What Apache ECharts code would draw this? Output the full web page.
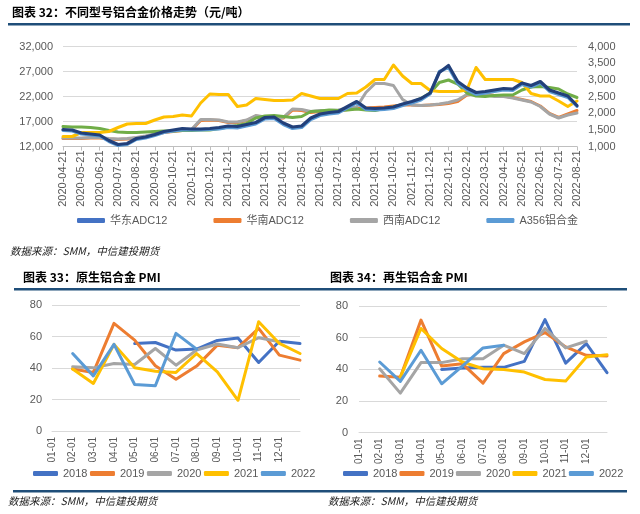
<!DOCTYPE html>
<html><head><meta charset="utf-8">
<script src="https://cdn.jsdelivr.net/npm/echarts@6/dist/echarts.min.js"></script>
<style>html,body{margin:0;padding:0;background:#fff}#c{width:640px;height:514px}</style>
</head><body><div id="c"></div>
<script>
// ---- Chart 32: price trend (semi-monthly readings) ----
const priceDates = ["2020-04-21","2020-05-06","2020-05-21","2020-06-06","2020-06-21","2020-07-06","2020-07-21","2020-08-06","2020-08-21","2020-09-06","2020-09-21","2020-10-06","2020-10-21","2020-11-06","2020-11-21","2020-12-06","2020-12-21","2021-01-06","2021-01-21","2021-02-06","2021-02-21","2021-03-06","2021-03-21","2021-04-06","2021-04-21","2021-05-06","2021-05-21","2021-06-06","2021-06-21","2021-07-06","2021-07-21","2021-08-06","2021-08-21","2021-09-06","2021-09-21","2021-10-06","2021-10-21","2021-11-06","2021-11-21","2021-12-06","2021-12-21","2022-01-06","2022-01-21","2022-02-06","2022-02-21","2022-03-06","2022-03-21","2022-04-06","2022-04-21","2022-05-06","2022-05-21","2022-06-06","2022-06-21","2022-07-06","2022-07-21","2022-08-06","2022-08-21"];
const huadong = [15400,15300,14700,14500,14300,13200,12400,12600,13600,13900,14400,15000,15300,15600,15500,15500,15600,15800,16100,16000,16400,16800,17800,17900,16700,15900,16100,17700,18500,18800,19000,20000,21000,19700,19600,19700,19900,20500,21000,21600,22700,26800,28200,25000,23700,22800,23000,23300,23600,23500,24700,24200,25000,23300,22700,22100,20200];
const huanan = [13600,13600,13600,13700,13700,13500,13400,13500,13700,14000,14400,14800,15000,15200,15300,17200,17300,17200,16800,16800,17200,18100,17800,17600,17700,19300,19200,18800,19000,19000,19100,19400,19600,19700,19800,19900,20100,20300,20300,20200,20300,20400,20600,21000,22300,22600,22500,22200,22100,21800,21400,21000,20100,18600,17800,18500,19200];
const xinan = [13700,13700,13700,13800,13800,13600,13500,13600,13800,14100,14500,14900,15100,15300,15400,17400,17400,17300,16900,16900,17300,18200,17900,17700,17800,19500,19400,19000,19200,19200,19300,19700,19900,22800,24600,24600,24200,21400,20300,20200,20300,20500,20800,21300,22400,22600,22400,22000,22000,21700,21300,20900,20000,18500,17700,18300,18700];
const a356 = [15200,15100,14500,14300,14100,13000,12200,12400,13400,13700,14200,14800,15100,15300,15300,15300,15400,15500,15800,15700,16100,16500,17500,17600,16400,15600,15800,17400,18200,18500,18700,19700,20700,19400,19300,19400,19600,20200,20700,21300,22500,27000,27800,24600,23300,22400,22700,23000,23300,23200,24400,23900,24700,23000,22400,21800,20000];
const series5 = [14000,14000,14800,14800,14800,15000,15800,16500,16600,16600,17300,17900,18000,18300,18100,20700,22500,22400,22400,20000,20300,21600,21400,21200,21200,21300,22600,22100,21600,21600,21600,22600,22700,23900,25400,25400,28300,26100,24600,24600,23200,23000,23000,23000,23300,27800,25400,25400,25400,25400,24800,22600,22100,22100,21100,20000,21100];
const series6 = [16000,15900,15900,15800,15600,15200,14900,14800,14800,14900,15000,15100,15100,15200,15200,15300,15300,15600,15900,16200,16600,17700,18100,18200,18000,17800,18000,19000,19100,19300,19200,19300,19500,19300,19200,19600,19900,20400,20800,21600,22700,24800,25300,24500,22700,22100,22000,22200,22300,22300,23300,23900,24000,23800,23500,22500,21800];
const leftTicks = {min:12000, max:32000, step:5000};
const rightTicks = {min:1000, max:4000, step:500};

// ---- Chart 33 / 34: PMI ----
const pmiCats = ["01-01","02-01","03-01","04-01","05-01","06-01","07-01","08-01","09-01","10-01","11-01","12-01",""];
const years = ["2018","2019","2020","2021","2022"];
const yuan2018 = [null,null,null,55.5,56.2,51.4,52,57.5,59,43.5,57,55.5];
const yuan2019 = [39.3,37.2,68.3,57.7,41.4,32.8,41.2,54.5,52.9,65.2,48.2,45];
const yuan2020 = [40.8,40.1,42.9,42.2,52.4,41.8,51.4,55.2,52.9,59.2,56.7,null];
const yuan2021 = [39.3,30.2,55,40.1,38,37.2,49.2,37.6,19.5,69.4,55.6,49.2];
const yuan2022 = [49.2,35,55,29.5,28.7,62,52];
const zai2018 = [null,null,null,39.9,40.8,41.2,41.2,45,71.4,43.9,56.2,37.8];
const zai2019 = [35.7,35,71.1,42,43.5,31.2,49.9,57.3,63.2,54.1,48.8,48.4];
const zai2020 = [40.3,24.9,44.2,44.2,46.7,46.7,55.2,49.9,65.8,53.5,57.7,null];
const zai2021 = [null,35,65.8,53.1,44.6,40.3,39.9,38.2,33.5,32.5,47.8,49.2];
const zai2022 = [44.6,32.3,52,30.8,42,53.5,55.2];
const yearColors = ["#4472C4","#ED7D31","#A5A5A5","#FFC000","#5B9BD5"];

const FONT = "'Liberation Sans','Noto Sans CJK SC',sans-serif";
const CJK = "'Noto Sans CJK SC',sans-serif";
const grayTxt = '#595959';

function lineS(name, data, color, xi, yi, w){
  return {name, type:'line', data, xAxisIndex:xi, yAxisIndex:yi, symbol:'none', smooth:false,
    lineStyle:{color, width:w||3, cap:'round', join:'round'}, itemStyle:{color}, emphasis:{disabled:true}};
}
const shift = arr => [null].concat(arr); // reference draws PMI points one slot right of labels

const pmiA = [yuan2018,yuan2019,yuan2020,yuan2021,yuan2022];
const pmiB = [zai2018,zai2019,zai2020,zai2021,zai2022];

const series = [
  lineS('华南ADC12', huanan, '#ED7D31', 0, 0, 3),
  lineS('西南ADC12', xinan, '#A5A5A5', 0, 0, 3),
  lineS('系列6', series6, '#70AD47', 0, 0, 3),
  lineS('系列5', series5, '#FFC000', 0, 0, 3),
  lineS('A356铝合金', a356, '#5B9BD5', 0, 0, 3),
  lineS('华东ADC12', huadong, '#22407A', 0, 0, 3.2)
];
years.forEach((y,i)=>series.push(lineS(y, shift(pmiA[i]), yearColors[i], 1, 2, 3)));
years.forEach((y,i)=>series.push(lineS(y, shift(pmiB[i]), yearColors[i], 2, 3, 3)));

const splitL = {show:true, lineStyle:{color:'#D9D9D9', width:1}};
const yLab = {fontSize:11, color:grayTxt, fontFamily:FONT};

const option = {
  animation:false,
  textStyle:{fontFamily:FONT},
  grid:[
    {left:63, top:46.5, width:514, height:100},
    {left:52, top:305, width:248, height:126},
    {left:359, top:306, width:248, height:126.5}
  ],
  xAxis:[
    {gridIndex:0, type:'category', data:priceDates, boundaryGap:false,
     axisLine:{lineStyle:{color:'#BFBFBF'}},
     axisTick:{show:true, length:4, interval:(i)=>i%2===0, lineStyle:{color:'#BFBFBF'}},
     axisLabel:{rotate:90, interval:(i)=>i%2===0, fontSize:11, color:grayTxt, margin:4}},
    {gridIndex:1, type:'category', data:pmiCats, boundaryGap:false,
     axisLine:{lineStyle:{color:'#D9D9D9'}}, axisTick:{show:false},
     axisLabel:{rotate:90, interval:0, fontSize:10, color:grayTxt, margin:6}},
    {gridIndex:2, type:'category', data:pmiCats, boundaryGap:false,
     axisLine:{lineStyle:{color:'#D9D9D9'}}, axisTick:{show:false},
     axisLabel:{rotate:90, interval:0, fontSize:10, color:grayTxt, margin:6}}
  ],
  yAxis:[
    {gridIndex:0, type:'value', min:leftTicks.min, max:leftTicks.max, interval:leftTicks.step,
     splitLine:splitL, axisLine:{show:false}, axisTick:{show:false}, axisLabel:Object.assign({margin:10}, yLab)},
    {gridIndex:0, type:'value', position:'right', min:rightTicks.min, max:rightTicks.max, interval:rightTicks.step,
     splitLine:{show:false}, axisLine:{show:false}, axisTick:{show:false}, axisLabel:Object.assign({margin:11}, yLab)},
    {gridIndex:1, type:'value', min:0, max:80, interval:20, splitLine:splitL,
     axisLine:{show:false}, axisTick:{show:false}, axisLabel:Object.assign({margin:10}, yLab)},
    {gridIndex:2, type:'value', min:0, max:80, interval:20, splitLine:splitL,
     axisLine:{show:false}, axisTick:{show:false}, axisLabel:Object.assign({margin:11}, yLab)}
  ],
  legend:[
    {left:72, top:210, icon:'roundRect', itemWidth:28, itemHeight:5, itemGap:46,
     textStyle:{fontSize:11, color:grayTxt, fontFamily:FONT}, selectedMode:false,
     data:[{name:'华东ADC12', itemStyle:{color:'#4472C4'}}, '华南ADC12', '西南ADC12', 'A356铝合金']},
    {left:28, top:463, icon:'roundRect', itemWidth:25, itemHeight:5, itemGap:2.5,
     textStyle:{fontSize:11, color:grayTxt, fontFamily:FONT}, selectedMode:false, data:years},
    {left:338, top:463, icon:'roundRect', itemWidth:25, itemHeight:5, itemGap:2,
     textStyle:{fontSize:11, color:grayTxt, fontFamily:FONT}, selectedMode:false, data:years}
  ],
  graphic:[
    {type:'text', left:12, top:6, style:{text:'图表 32：不同型号铝合金价格走势（元/吨）', fontSize:12, fontWeight:'bold', fontFamily:CJK, fill:'#000'}},
    {type:'rect', shape:{x:8, y:23, width:622, height:2.5}, style:{fill:'#1F4E79'}},
    {type:'text', left:10, top:246, style:{text:'数据来源：SMM，中信建投期货', fontSize:10.5, fontStyle:'italic', fontFamily:CJK, fill:'#222'}},
    {type:'text', left:23, top:271, style:{text:'图表 33：原生铝合金 PMI', fontSize:12, fontWeight:'bold', fontFamily:CJK, fill:'#000'}},
    {type:'text', left:330, top:271, style:{text:'图表 34：再生铝合金 PMI', fontSize:12, fontWeight:'bold', fontFamily:CJK, fill:'#000'}},
    {type:'rect', shape:{x:14, y:288, width:613, height:2.5}, style:{fill:'#1F4E79'}},
    {type:'rect', shape:{x:13, y:490, width:614, height:2.5}, style:{fill:'#1F4E79'}},
    {type:'text', left:8, top:496, style:{text:'数据来源：SMM，中信建投期货', fontSize:10.5, fontStyle:'italic', fontFamily:CJK, fill:'#222'}},
    {type:'text', left:328, top:496, style:{text:'数据来源：SMM，中信建投期货', fontSize:10.5, fontStyle:'italic', fontFamily:CJK, fill:'#222'}}
  ],
  series
};
echarts.init(document.getElementById('c'), null, {renderer:'canvas'}).setOption(option);
</script></body></html>
